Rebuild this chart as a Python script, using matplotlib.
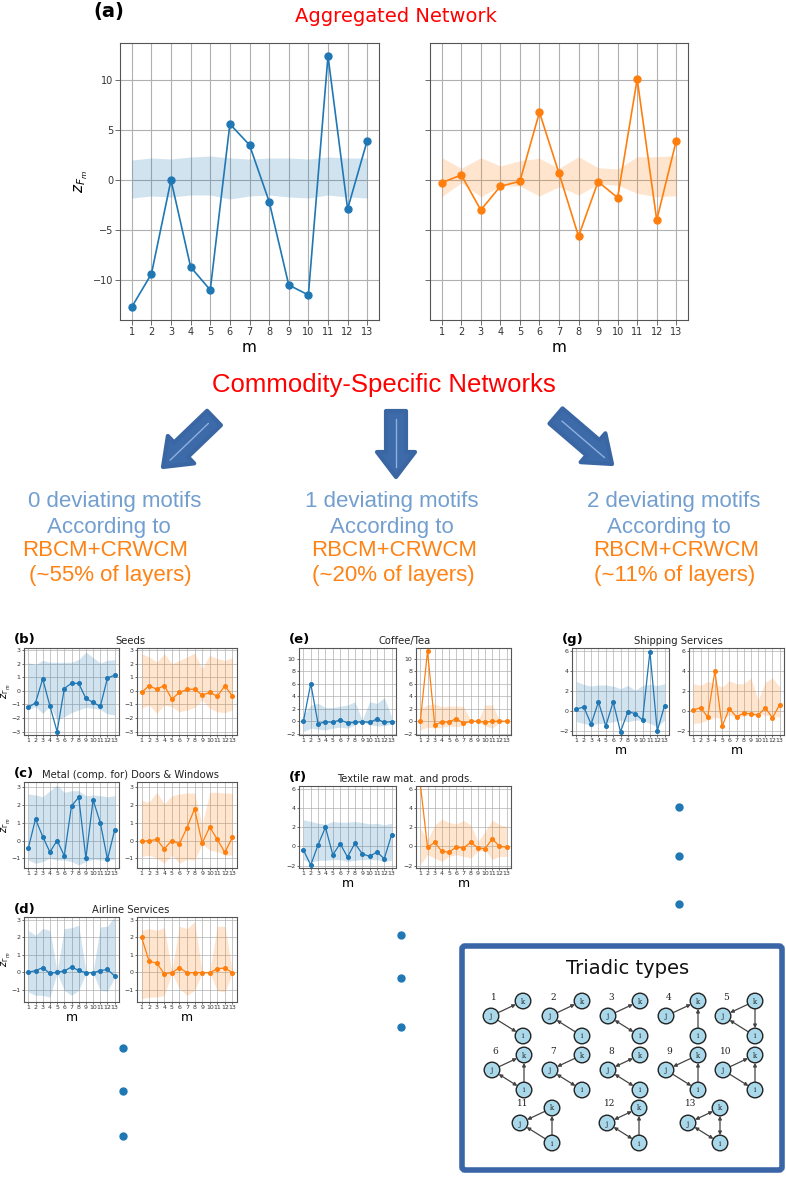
import matplotlib
matplotlib.use('Agg')
import matplotlib.pyplot as plt
from matplotlib import font_manager
from matplotlib.patches import FancyArrow, FancyArrowPatch, Circle, FancyBboxPatch
import numpy as np

W, H = 786, 1177
BLUE = '#1f77b4'
ORANGE = '#ff7f0e'

# ---------------- data ----------------
m = list(range(1, 14))
m_labels = [str(i) for i in m]

# (a) aggregated network
agg_rbcm = [-12.7, -9.4, 0.0, -8.7, -11.0, 5.6, 3.5, -2.15, -10.5, -11.5, 12.4, -2.9, 3.95]
agg_rbcm_hi = [2.0, 2.2, 2.1, 2.3, 2.4, 2.2, 2.1, 2.2, 2.2, 2.1, 2.3, 2.2, 2.2]
agg_rbcm_lo = [-1.8, -1.6, -1.7, -1.5, -1.5, -1.9, -1.6, -1.5, -1.7, -1.8, -1.5, -1.7, -1.8]
agg_crwcm = [-0.27, 0.5, -3.0, -0.63, -0.13, 6.77, 0.67, -5.63, -0.17, -1.77, 10.1, -4.0, 3.93]
agg_crwcm_hi = [2.23, 1.17, 2.23, 1.4, 1.93, 2.17, 1.17, 2.33, 1.23, 1.1, 2.33, 2.33, 2.43]
agg_crwcm_lo = [-1.67, -0.27, -1.67, -0.6, -0.6, -1.6, -0.67, -1.5, -0.43, -0.5, -1.33, -1.67, -1.57]

# (b) Seeds
seeds_rbcm = [-1.22, -0.88, 0.88, -1.12, -3.0, 0.17, 0.56, 0.54, -0.56, -0.85, -1.15, 0.95, 1.15]
seeds_rbcm_hi = [2.07, 1.93, 2.24, 2.1, 2.1, 2.1, 2.1, 2.3, 2.85, 2.44, 2.05, 2.24, 2.3]
seeds_rbcm_lo = [-1.37, -1.17, -1.66, -1.12, -2.15, -1.9, -1.6, -1.41, -1.22, -1.3, -1.37, -1.7, -1.78]
seeds_crwcm = [-0.12, 0.37, 0.12, 0.39, -0.61, -0.12, 0.1, 0.12, -0.32, -0.12, -0.39, 0.37, -0.39]
seeds_crwcm_hi = [2.73, 2.49, 2.12, 2.73, 2.0, 2.24, 2.49, 2.78, 1.63, 2.61, 2.37, 2.24, 2.44]
seeds_crwcm_lo = [-1.29, -1.05, -1.66, -1.05, -1.17, -1.54, -1.41, -1.22, -0.68, -1.29, -1.54, -1.6, -1.41]

# (c) Metal (comp. for) Doors & Windows
metal_rbcm = [-0.43, 1.21, 0.22, -0.65, 0.0, -0.86, 1.95, 2.44, -1.0, 2.29, 1.0, -1.06, 0.6]
metal_rbcm_hi = [2.62, 2.57, 2.47, 2.81, 3.13, 2.72, 2.81, 2.81, 2.53, 2.57, 2.53, 2.47, 2.53]
metal_rbcm_lo = [-1.1, -1.28, -1.19, -1.0, -1.1, -1.1, -1.19, -1.38, -1.19, -1.06, -1.1, -1.1, -1.06]
metal_crwcm = [-0.04, -0.02, 0.06, -0.47, 0.0, -0.19, 0.73, 1.79, -0.15, 0.76, 0.06, -0.67, 0.19]
metal_crwcm_hi = [2.25, 2.16, 2.72, 2.07, 2.53, 2.62, 2.68, 2.68, 0.86, 2.72, 2.72, 2.68, 2.66]
metal_crwcm_lo = [-0.91, -0.82, -1.0, -1.28, -0.82, -1.28, -1.06, -1.1, -0.2, -0.54, -0.63, -0.82, -0.82]

# (d) Airline Services
air_rbcm = [0.0, 0.09, 0.26, -0.07, 0.0, 0.07, 0.3, 0.1, -0.03, -0.03, 0.09, 0.16, -0.22]
air_rbcm_hi = [2.39, 2.1, 2.49, 2.39, 0.05, 2.49, 2.54, 2.68, 0.05, 0.05, 2.58, 2.62, 3.2]
air_rbcm_lo = [-1.13, -1.32, -1.32, -1.42, -0.05, -1.04, -1.32, -1.04, -0.05, -0.05, -1.04, -1.08, -0.3]
air_crwcm = [2.0, 0.62, 0.52, -0.09, -0.03, 0.26, -0.03, -0.03, -0.03, -0.03, 0.2, 0.24, -0.03]
air_crwcm_hi = [2.39, 2.49, 2.39, 2.54, 0.05, 2.62, 2.49, 2.87, 0.05, 0.05, 2.62, 2.62, 0.05]
air_crwcm_lo = [-1.51, -1.42, -1.42, -1.32, -0.05, -0.94, -1.32, -1.04, -0.05, -0.05, -1.04, -1.13, -0.05]

# (e) Coffee/Tea
coffee_rbcm = [0.0, 6.0, -0.42, -0.1, -0.16, 0.2, -0.26, -0.2, -0.05, -0.2, 0.37, -0.2, -0.05]
coffee_rbcm_hi = [1.0, 2.6, 2.86, 2.2, 2.2, 2.4, 2.6, 3.1, 0.2, 3.1, 2.86, 3.76, 0.74]
coffee_rbcm_lo = [-1.64, -1.11, -1.27, -1.38, -1.11, -0.95, -1.11, -0.58, -0.05, -0.58, -0.74, -0.74, -0.42]
coffee_crwcm = [0.0, 11.2, -0.58, -0.1, -0.1, 0.42, -0.32, 0.0, 0.0, -0.16, 0.0, 0.0, 0.0]
coffee_crwcm_hi = [2.06, 2.6, 2.75, 2.33, 2.43, 2.43, 2.33, 0.2, 0.1, 2.6, 2.6, 0.2, 0.1]
coffee_crwcm_lo = [-1.38, -0.95, -1.11, -0.95, -0.74, -0.85, -0.74, -0.1, -0.1, -0.74, -1.11, -0.2, -0.1]

# (f) Textile raw mat. and prods.
textile_rbcm = [-0.38, -1.94, 0.17, 2.0, -0.87, 0.28, -1.1, 0.31, -0.76, -1.04, -0.59, -1.28, 1.21]
textile_rbcm_hi = [2.77, 2.6, 2.42, 2.32, 2.6, 2.53, 2.53, 2.6, 2.49, 2.35, 2.42, 2.25, 2.42]
textile_rbcm_lo = [-1.38, -1.66, -1.45, -1.45, -1.38, -1.38, -1.56, -1.45, -1.38, -1.38, -1.38, -1.56, -1.45]
textile_crwcm = [6.5, -0.1, 0.42, -0.52, -0.59, -0.07, -0.17, 0.42, -0.14, -0.24, 0.8, 0.0, -0.07]
textile_crwcm_hi = [1.9, 0.69, 2.25, 2.84, 2.49, 2.35, 2.7, 2.25, 0.52, 1.56, 2.77, 2.25, 2.08]
textile_crwcm_lo = [-1.9, -0.87, -1.21, -1.56, -1.04, -0.87, -1.04, -1.21, -0.52, -0.35, -1.38, -1.04, -1.04]

# (g) Shipping Services
ship_rbcm = [0.17, 0.4, -1.33, 0.9, -1.52, 0.9, -2.09, -0.1, -0.27, -0.93, 5.93, -2.02, 0.53]
ship_rbcm_hi = [2.95, 2.65, 2.49, 2.59, 2.59, 2.49, 2.22, 2.55, 2.06, 2.55, 2.65, 2.55, 2.72]
ship_rbcm_lo = [-1.09, -1.26, -1.43, -1.26, -1.26, -1.09, -0.93, -1.09, -0.93, -0.93, -1.26, -1.59, -0.93]
ship_crwcm = [0.07, 0.33, -0.63, 4.0, -1.56, 0.23, -0.6, -0.23, -0.3, -0.43, 0.3, -0.7, 0.63]
ship_crwcm_hi = [2.72, 2.55, 2.95, 2.72, 2.39, 3.02, 2.72, 2.72, 3.3, 1.06, 2.89, 3.3, 2.39]
ship_crwcm_lo = [-1.26, -1.19, -0.93, -0.66, -0.76, -0.43, -0.6, -0.53, -0.43, -0.27, -0.43, -0.6, -0.6]

# text content
group_counts = ['0 deviating motifs', '1 deviating motifs', '2 deviating motifs']
group_shares = ['(~55% of layers)', '(~20% of layers)', '(~11% of layers)']

# triadic motif edges: (from, to, 1=single / 2=reciprocated)
triad_edges = {
    1: [('j', 'k', 1), ('j', 'i', 1)],
    2: [('j', 'k', 1), ('i', 'j', 1)],
    3: [('j', 'k', 1), ('j', 'i', 2)],
    4: [('j', 'k', 1), ('i', 'k', 1)],
    5: [('k', 'j', 1), ('k', 'i', 1), ('i', 'j', 1)],
    6: [('j', 'k', 1), ('i', 'k', 1), ('j', 'i', 2)],
    7: [('k', 'j', 1), ('j', 'i', 2)],
    8: [('j', 'k', 2), ('j', 'i', 2)],
    9: [('k', 'j', 1), ('i', 'k', 1), ('j', 'i', 1)],
    10: [('j', 'k', 1), ('i', 'k', 1), ('j', 'i', 1)],
    11: [('k', 'j', 1), ('i', 'k', 1), ('i', 'j', 1)],
    12: [('j', 'k', 2), ('i', 'k', 1), ('j', 'i', 2)],
    13: [('j', 'k', 2), ('k', 'i', 2), ('j', 'i', 2)],
}

# ---------------- fonts ----------------
names = {f.name for f in font_manager.fontManager.ttflist}
NARROW = 'Liberation Sans Narrow' if 'Liberation Sans Narrow' in names else 'Liberation Sans'

plt.rcParams['font.family'] = ['DejaVu Sans']
plt.rcParams['axes.unicode_minus'] = True

fig = plt.figure(figsize=(W / 100, H / 100), dpi=100)


def add_ax(l, t, r, b):
    return fig.add_axes([l / W, 1 - b / H, (r - l) / W, (b - t) / H])


def draw(ax, vals, lo, hi, color, ms, lw, ylim, yticks, tfs, glw):
    ax.fill_between(m, lo, hi, color=color, alpha=0.2, lw=0)
    ax.plot(m, vals, '-o', color=color, ms=ms, lw=lw)
    ax.set_xticks(m)
    ax.set_xticklabels(m_labels)
    ax.set_ylim(*ylim)
    ax.set_yticks(yticks)
    ax.grid(True, color='#b0b0b0', lw=glw)
    ax.set_axisbelow(True)
    ax.tick_params(labelsize=tfs, length=2, width=0.5, pad=1.5, colors='#333333')
    for s in ax.spines.values():
        s.set_color('#555555')
        s.set_linewidth(0.8)


# ---------------- (a) ----------------
axL = add_ax(120, 43, 379, 320)
axR = add_ax(430, 43, 688, 320)
ylimA = (-14, 13.7)
ytA = [-10, -5, 0, 5, 10]
draw(axL, agg_rbcm, agg_rbcm_lo, agg_rbcm_hi, BLUE, 5, 1.2, ylimA, ytA, 7, 0.8)
draw(axR, agg_crwcm, agg_crwcm_lo, agg_crwcm_hi, ORANGE, 5, 1.2, ylimA, ytA, 7, 0.8)
axR.tick_params(labelleft=False)
for ax in (axL, axR):
    ax.tick_params(length=3.5)
    ax.set_xlabel('m', fontsize=11, labelpad=2)
axL.set_ylabel('$z_{F_m}$', fontsize=11, labelpad=2)

# ---------------- small panels ----------------
small = [
    ('Seeds', '(b)', (24, 648, 119, 735), (137, 648, 237, 735),
     (seeds_rbcm, seeds_rbcm_lo, seeds_rbcm_hi, seeds_crwcm, seeds_crwcm_lo, seeds_crwcm_hi),
     (-3.25, 3.15), [-3, -2, -1, 0, 1, 2, 3], True, False),
    ('Metal (comp. for) Doors & Windows', '(c)', (24, 782, 119, 868), (137, 782, 237, 868),
     (metal_rbcm, metal_rbcm_lo, metal_rbcm_hi, metal_crwcm, metal_crwcm_lo, metal_crwcm_hi),
     (-1.55, 3.3), [-1, 0, 1, 2, 3], True, False),
    ('Airline Services', '(d)', (24, 917, 119, 1002), (137, 917, 237, 1002),
     (air_rbcm, air_rbcm_lo, air_rbcm_hi, air_crwcm, air_crwcm_lo, air_crwcm_hi),
     (-1.7, 3.15), [-1, 0, 1, 2, 3], True, True),
    ('Coffee/Tea', '(e)', (299, 648, 396, 735), (416, 648, 511, 735),
     (coffee_rbcm, coffee_rbcm_lo, coffee_rbcm_hi, coffee_crwcm, coffee_crwcm_lo, coffee_crwcm_hi),
     (-2.2, 11.7), [-2, 0, 2, 4, 6, 8, 10], False, False),
    ('Textile raw mat. and prods.', '(f)', (299, 786, 396, 868), (416, 786, 511, 868),
     (textile_rbcm, textile_rbcm_lo, textile_rbcm_hi, textile_crwcm, textile_crwcm_lo, textile_crwcm_hi),
     (-2.25, 6.3), [-2, 0, 2, 4, 6], False, True),
    ('Shipping Services', '(g)', (572, 648, 669, 735), (689, 648, 784, 735),
     (ship_rbcm, ship_rbcm_lo, ship_rbcm_hi, ship_crwcm, ship_crwcm_lo, ship_crwcm_hi),
     (-2.42, 6.3), [-2, 0, 2, 4, 6], False, True),
]

ov = fig.add_axes([0, 0, 1, 1])
ov.set_xlim(0, W)
ov.set_ylim(H, 0)
ov.axis('off')

for title, lab, bb, ob, d, yl, yt, ylab, xlab in small:
    a1 = add_ax(*bb)
    a2 = add_ax(*ob)
    draw(a1, d[0], d[1], d[2], BLUE, 2.6, 0.9, yl, yt, 4.5, 0.5)
    draw(a2, d[3], d[4], d[5], ORANGE, 2.6, 0.9, yl, yt, 4.5, 0.5)
    for a in (a1, a2):
        a.tick_params(length=1.5, pad=1)
        if xlab:
            a.set_xlabel('m', fontsize=9, labelpad=0.5)
    if ylab:
        a1.set_ylabel('$z_{\\Gamma_m}$', fontsize=7)
        a1.yaxis.set_label_coords(-0.115, 0.5)
    cx = (bb[0] + ob[2]) / 2
    ov.text(cx, bb[1] - 7, title, ha='center', va='center', fontsize=7.2, color='#222222')
    ov.text(bb[0] - 10, bb[1] - 8, lab, ha='left', va='center', fontsize=9.5,
            fontweight='bold', color='black')

# ---------------- titles & texts ----------------
ov.text(93, 12, '(a)', ha='left', va='center', fontsize=14, fontweight='bold')
ov.text(396, 17, 'Aggregated Network', ha='center', va='center', fontsize=14, color='#ff0000')
ov.text(384, 385, 'Commodity-Specific Networks', ha='center', va='center', fontsize=18.5,
        color='#ff0000', family=NARROW)

centers = [(115, 109, 105, 110), (392, 392, 394, 393), (674, 669, 676, 675)]
for (c1, c2, c3, c4), cnt, share in zip(centers, group_counts, group_shares):
    ov.text(c1, 502, cnt, ha='center', va='center', fontsize=16, color='#729fcf', family=NARROW)
    ov.text(c2, 527, 'According to', ha='center', va='center', fontsize=16, color='#729fcf', family=NARROW)
    ov.text(c3, 551, 'RBCM+CRWCM', ha='center', va='center', fontsize=16, color='#ff8214', family=NARROW)
    ov.text(c4, 576, share, ha='center', va='center', fontsize=16, color='#ff8214', family=NARROW)

# arrows
arrows = [((214, 418), (163, 467)), ((396, 411), (396, 477)), ((556, 416), (612, 464))]
for (x0, y0), (x1, y1) in arrows:
    ar = FancyArrow(x0, y0, x1 - x0, y1 - y0, width=20, head_width=38, head_length=25,
                    length_includes_head=True, facecolor='#3d6aa9', edgecolor='#3a66a4',
                    lw=3, joinstyle='round')
    ov.add_patch(ar)
    L = np.hypot(x1 - x0, y1 - y0)
    ux, uy = (x1 - x0) / L, (y1 - y0) / L
    ov.plot([x0 + ux * 8, x1 - ux * 10], [y0 + uy * 8, y1 - uy * 10], color='#8fb0dc', lw=1)

# ellipsis dots
for x, ys in [(123, (1048, 1091, 1136)), (401, (935, 978, 1027)), (679, (807, 856, 904))]:
    ov.plot([x] * 3, list(ys), 'o', color=BLUE, ms=5, lw=0)

# ---------------- triadic types box ----------------
box = FancyBboxPatch((462, 946), 320, 224, boxstyle='round,pad=0,rounding_size=3',
                     facecolor='white', edgecolor='#3a66a8', lw=4)
ov.add_patch(box)
ov.text(628, 968, 'Triadic types', ha='center', va='center', fontsize=14, color='#111111')

pos_j = {1: (491, 1016), 2: (550, 1016), 3: (608, 1016), 4: (666, 1016), 5: (723, 1016),
         6: (492, 1070), 7: (550, 1070), 8: (608, 1070), 9: (666, 1070), 10: (723, 1070),
         11: (520, 1123), 12: (607, 1123), 13: (688, 1123)}
R = 7.8
for t, (xj, yj) in pos_j.items():
    P = {'j': (xj, yj), 'k': (xj + 32, yj - 15), 'i': (xj + 32, yj + 20)}
    for a, b, kind in triad_edges[t]:
        (xa, ya), (xb, yb) = P[a], P[b]
        L = np.hypot(xb - xa, yb - ya)
        ux, uy = (xb - xa) / L, (yb - ya) / L
        pa = (xa + ux * R, ya + uy * R)
        pb = (xb - ux * R, yb - uy * R)
        style = '-|>' if kind == 1 else '<|-|>'
        ov.add_patch(FancyArrowPatch(pa, pb, arrowstyle=style, mutation_scale=5,
                                     color='#444444', lw=0.9, shrinkA=0, shrinkB=0))
    for n, (x, y) in P.items():
        ov.add_patch(Circle((x, y), R, facecolor='#a8d8ea', edgecolor='#222222', lw=1))
        ov.text(x, y + 0.5, n, ha='center', va='center', fontsize=5, family='DejaVu Serif',
                color='#222222')
    ov.text(xj + 3, yj - 19, str(t), ha='center', va='center', fontsize=6.5,
            family='DejaVu Serif', color='#222222')

fig.savefig('out.png', dpi=100)
